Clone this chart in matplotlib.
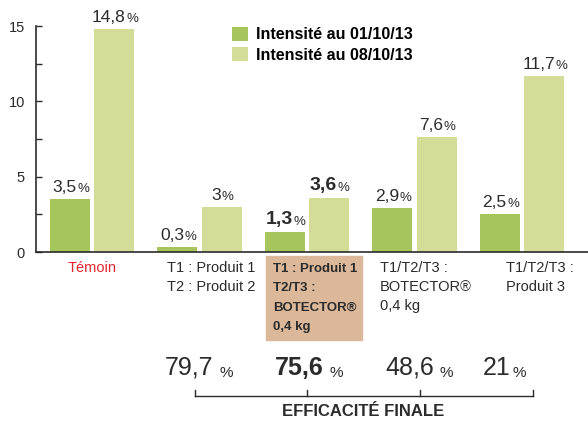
import matplotlib.pyplot as plt
import matplotlib.lines as mlines
import matplotlib.patches as mpatches

plt.rcParams["font.family"] = ["Liberation Sans", "DejaVu Sans"]

# Données
groupes = [0, 1, 2, 3, 4]
intensite_0110 = [3.5, 0.3, 1.3, 2.9, 2.5]
intensite_0810 = [14.8, 3.0, 3.6, 7.6, 11.7]
labels_0110 = ["3,5", "0,3", "1,3", "2,9", "2,5"]
labels_0810 = ["14,8", "3", "3,6", "7,6", "11,7"]
categories = [
    "Témoin",
    "T1 : Produit 1\nT2 : Produit 2",
    "T1 : Produit 1\nT2/T3 :\nBOTECTOR®\n0,4 kg",
    "T1/T2/T3 :\nBOTECTOR®\n0,4 kg",
    "T1/T2/T3 :\nProduit 3",
]
efficacite = ["79,7", "75,6", "48,6", "21"]
legende = ["Intensité au 01/10/13", "Intensité au 08/10/13"]

W, H = 588, 422
vert_fonce = "#a6c55c"
vert_clair = "#d3dd98"
gris = "#2b2b2b"

fig = plt.figure(figsize=(W / 100, H / 100), dpi=100)
ax = fig.add_axes([36 / W, 170 / H, 552 / W, 226 / H])

largeur = 0.372
decal = 0.205
x1 = [g - decal for g in groupes]
x2 = [g + decal for g in groupes]
ax.bar(x1, intensite_0110, width=largeur, color=vert_fonce, label=legende[0])
ax.bar(x2, intensite_0810, width=largeur, color=vert_clair, label=legende[1])

ax.set_xlim(-0.521, 4.614)
ax.set_ylim(0, 15)
ax.set_yticks([0, 5, 10, 15])
ax.set_yticks([2.5, 7.5, 12.5], minor=True)
ax.set_xticks([])
ax.tick_params(axis="y", which="both", direction="in", length=4, width=1,
               color=gris, labelsize=10.5, labelcolor=gris, pad=8)
for s in ["top", "right"]:
    ax.spines[s].set_visible(False)
for s in ["left", "bottom"]:
    ax.spines[s].set_color(gris)
    ax.spines[s].set_linewidth(1.2)


def etiquette(x, y, txt, gras=False):
    t = ax.annotate(txt, (x, y), xytext=(-4, 3), textcoords="offset points",
                    ha="center", va="bottom", fontsize=14 if gras else 12.5,
                    fontweight="bold" if gras else "normal", color=gris)
    ax.annotate("%", (1, 0), xycoords=t, xytext=(0.5, 0), textcoords="offset points",
                ha="left", va="bottom", fontsize=9.5, color=gris)


for i in groupes:
    etiquette(x1[i], intensite_0110[i], labels_0110[i], gras=(i == 2))
    etiquette(x2[i], intensite_0810[i], labels_0810[i], gras=(i == 2))

# Légende
ax.legend(loc="upper left", bbox_to_anchor=(232 / W, 1 - 27 / H),
          bbox_transform=fig.transFigure, frameon=False, borderpad=0,
          borderaxespad=0, handlelength=1.0, handleheight=0.95,
          handletextpad=0.5, labelspacing=0.3,
          prop={"weight": "bold", "size": 11.5})


def fx(x):
    return x / W


def fy(y):
    return 1 - y / H


# Catégories
fig.text(fx(92), fy(261), categories[0], ha="center", va="top",
         fontsize=10.5, color="#e3232c")
fig.patches.append(mpatches.Rectangle((fx(266), fy(340)), (362 - 266) / W, (340 - 256) / H,
                                      transform=fig.transFigure, color="#dbb899", zorder=0))
pos_cat = [167, 273, 380, 506]
for i, x in enumerate(pos_cat):
    gras = i == 1
    fig.text(fx(x), fy(263 if gras else 261), categories[i + 1], ha="left", va="top",
             fontsize=9.5 if gras else 10.5, color=gris,
             linespacing=1.8 if gras else 1.45,
             fontweight="bold" if gras else "normal")

# Efficacité finale
pos_eff = [165, 275, 385, 483]
for i, x in enumerate(pos_eff):
    gras = i == 1
    t = fig.text(fx(x), fy(375), efficacite[i], ha="left", va="baseline",
                 fontsize=18, color=gris, fontweight="bold" if gras else "normal")
    espace = 4 if i < 3 else 1
    ax.annotate("%", (1, 0), xycoords=t, xytext=(espace, 0), textcoords="offset points",
                ha="left", va="bottom", fontsize=11, color=gris, annotation_clip=False)

for x in [195, 307, 420, 533]:
    fig.lines.append(mlines.Line2D([fx(x), fx(x)], [fy(390), fy(396)],
                                   transform=fig.transFigure, color=gris, lw=1))
fig.lines.append(mlines.Line2D([fx(195), fx(533)], [fy(396), fy(396)],
                               transform=fig.transFigure, color=gris, lw=1))
fig.text(fx(363), fy(411), "EFFICACITÉ FINALE", ha="center", va="center",
         fontsize=12, fontweight="bold", color=gris)

fig.savefig("out.png", dpi=100)
